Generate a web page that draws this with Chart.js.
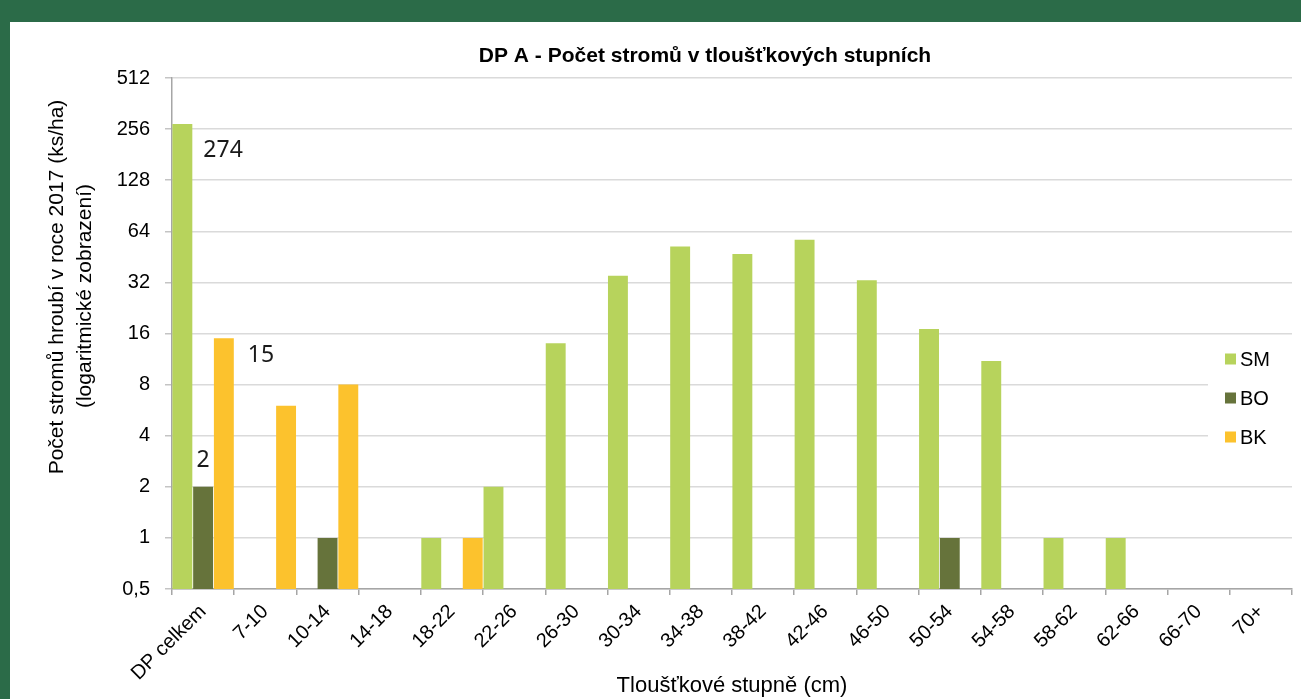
<!DOCTYPE html>
<html>
<head>
<meta charset="utf-8">
<script src="https://cdn.jsdelivr.net/npm/chart.js@4.4.1/dist/chart.umd.min.js"></script>
<style>
  html, body { margin: 0; padding: 0; width: 1301px; height: 699px; overflow: hidden; background: #2b6b48; }
  #frame { position: absolute; left: 10px; top: 22px; width: 1291px; height: 677px; background: #fff; }
  canvas { display: block; }
</style>
</head>
<body>
<div id="frame"><canvas id="treeChart" width="1291" height="677"></canvas></div>
<script>
'use strict';

const categories = ['DP celkem', '7-10', '10-14', '14-18', '18-22', '22-26', '26-30', '30-34', '34-38',
  '38-42', '42-46', '46-50', '50-54', '54-58', '58-62', '62-66', '66-70', '70+'];
const smValues = [274, null, null, null, 1, 2, 14, 35, 52, 47, 57, 33, 17, 11, 1, 1, null, null];
const boValues = [2, null, 1, null, null, null, null, null, null, null, null, null, 1, null, null, null, null, null];
const bkValues = [15, 6, 8, null, 1, null, null, null, null, null, null, null, null, null, null, null, null, null];
const yTicks = [0.5, 1, 2, 4, 8, 16, 32, 64, 128, 256, 512];

const seriesNames = ['SM', 'BO', 'BK'];
const seriesColors = ['#b7d35c', '#66733b', '#fcc22d'];

const chartTitle = 'DP A - Počet stromů v tloušťkových stupních';
const yTitleLines = ['Počet stromů hroubí v roce 2017 (ks/ha)', '(logaritmické zobrazení)'];
const xTitle = 'Tloušťkové stupně (cm)';

const FONT = '"Liberation Sans", Arial, sans-serif';
const LABEL_FONT = '"Noto Sans", "Open Sans", sans-serif';

// labels shown only on the first category (DP celkem)
const totalLabels = [
  { dataset: 0, dx: 11, dy: 26, align: 'left' },
  { dataset: 1, dx: 0, dy: -26, align: 'center' },
  { dataset: 2, dx: 14, dy: 17, align: 'left' },
];

const decorPlugin = {
  id: 'decor',
  afterDraw(chart) {
    const ctx = chart.ctx;
    const area = chart.chartArea;
    ctx.save();

    // title
    ctx.fillStyle = '#000';
    ctx.font = 'bold 21px ' + FONT;
    ctx.textAlign = 'center';
    ctx.textBaseline = 'middle';
    ctx.fillText(chartTitle, 695, 34);

    // axis titles
    ctx.font = '22px ' + FONT;
    ctx.fillText(xTitle, (area.left + area.right) / 2, 664);
    ctx.font = '21px ' + FONT;
    ctx.save();
    ctx.translate(47, 265);
    ctx.rotate(-Math.PI / 2);
    ctx.fillText(yTitleLines[0], 0, 0);
    ctx.restore();
    ctx.save();
    ctx.translate(75, 274);
    ctx.rotate(-Math.PI / 2);
    ctx.fillText(yTitleLines[1], 0, 0);
    ctx.restore();

    // legend
    ctx.font = '20px ' + FONT;
    ctx.fillStyle = '#fff';
    ctx.fillRect(1198, 320, 84, 113);
    chart.data.datasets.forEach((ds, i) => {
      const cy = 337 + i * 39;
      ctx.fillStyle = ds.backgroundColor;
      ctx.fillRect(1215, cy - 5.5, 11, 11);
      ctx.fillStyle = '#000';
      ctx.textAlign = 'left';
      ctx.fillText(ds.label, 1230, cy + 1);
    });

    // data labels
    ctx.font = '23px ' + LABEL_FONT;
    ctx.fillStyle = '#1a1a1a';
    totalLabels.forEach((lab) => {
      const bar = chart.getDatasetMeta(lab.dataset).data[0];
      const value = chart.data.datasets[lab.dataset].data[0];
      const props = bar.getProps(['x', 'y', 'width'], true);
      const x = lab.align === 'left' ? props.x + props.width / 2 + lab.dx : props.x + lab.dx;
      ctx.textAlign = lab.align;
      ctx.fillText(String(value), x, props.y + lab.dy);
    });

    ctx.restore();
  },
};

const datasets = [smValues, boValues, bkValues].map((values, i) => ({
  label: seriesNames[i],
  data: values,
  backgroundColor: seriesColors[i],
  borderWidth: 0,
  barPercentage: 0.96,
  categoryPercentage: 1.0,
}));

new Chart(document.getElementById('treeChart'), {
  type: 'bar',
  data: { labels: categories, datasets },
  plugins: [decorPlugin],
  options: {
    responsive: false,
    animation: false,
    devicePixelRatio: 1,
    layout: { padding: { left: 0, top: 56, right: 9, bottom: 0 } },
    plugins: {
      legend: { display: false },
      title: { display: false },
      tooltip: { enabled: false },
    },
    scales: {
      x: {
        offset: true,
        grid: {
          offset: true,
          drawOnChartArea: false,
          drawTicks: true,
          tickLength: 6,
          color: '#a6a6a6',
          lineWidth: 1.5,
        },
        border: { color: '#a6a6a6', width: 1.5 },
        ticks: {
          autoSkip: false,
          maxRotation: 45,
          minRotation: 45,
          padding: 5,
          color: '#000',
          font: { family: FONT, size: 20 },
        },
        afterFit(scale) { scale.height = 110; },
      },
      y: {
        type: 'logarithmic',
        min: 0.5,
        max: 512,
        grid: {
          color: '#dadada',
          lineWidth: 1.5,
          tickLength: 7,
          tickColor: '#c4c4c4',
        },
        border: { color: '#a6a6a6', width: 1.5 },
        ticks: {
          padding: 15,
          color: '#000',
          font: { family: FONT, size: 20 },
          callback: (value) => String(value).replace('.', ','),
        },
        afterBuildTicks(scale) {
          scale.ticks = yTicks.map((v) => ({ value: v }));
        },
        afterFit(scale) { scale.width = 162; },
      },
    },
  },
});
</script>
</body>
</html>
